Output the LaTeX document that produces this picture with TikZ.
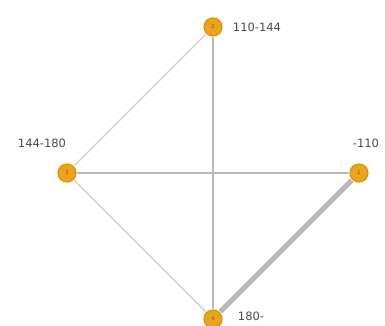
\documentclass[tikz,border=0pt]{standalone}
\usepackage{tikz}
\usetikzlibrary{positioning, arrows.meta, backgrounds}
\usepackage{xcolor}
\usepackage{fontspec}
\setmainfont{DejaVu Sans}
\definecolor{vertexfill}{HTML}{E9A51C}
\definecolor{vertexline}{HTML}{D08A10}
\definecolor{vertexglow}{HTML}{FBEFC0}
\definecolor{edgegray}{HTML}{CCCCCC}
\definecolor{edgedark}{HTML}{B8B8B8}

\begin{document}
\begin{tikzpicture}[
        x=1pt, y=1pt,
        vertex/.style={circle, draw=vertexline, fill=vertexfill, line width=0.8pt, minimum size=18pt, inner sep=0pt,
            preaction={draw=vertexglow, line width=3pt},
            font=\fontsize{5}{5}\selectfont, text=vertexline!60!black},
        tag/.style={font=\fontsize{11.5}{12}\selectfont, text=black!70},
        thinedge/.style={draw=edgegray, line width=1.4pt},
        midedge/.style={draw=edgedark, line width=2.8pt},
        fatedge/.style={draw=edgedark, line width=5pt}
    ]
        \useasboundingbox (0,0) rectangle (385,326);
        \node[vertex] (n2) at (213,299) {2};
        \node[vertex] (n3) at (67,153) {3};
        \node[vertex] (n1) at (359,153) {1};
        \node[vertex] (n4) at (213,7) {4};

        \begin{scope}[on background layer]
        \draw[thinedge] (n2.center) -- (n3.center);
        \draw[thinedge] (n3.center) -- (n4.center);
        \draw[midedge] (n2.center) -- (n4.center);
        \draw[midedge] (n3.center) -- (n1.center);
        \draw[fatedge] (n1.center) -- (n4.center);
        \end{scope}

        \node[tag, right=7pt of n2] (l2) {110-144};
        \node[tag, above=12pt of n3, xshift=-25pt] (l3) {144-180};
        \node[tag, above=12pt of n1, xshift=7pt] (l1) {-110};
        \node[tag, right=12pt of n4, yshift=3pt] (l4) {180-};
\end{tikzpicture}
\end{document}
